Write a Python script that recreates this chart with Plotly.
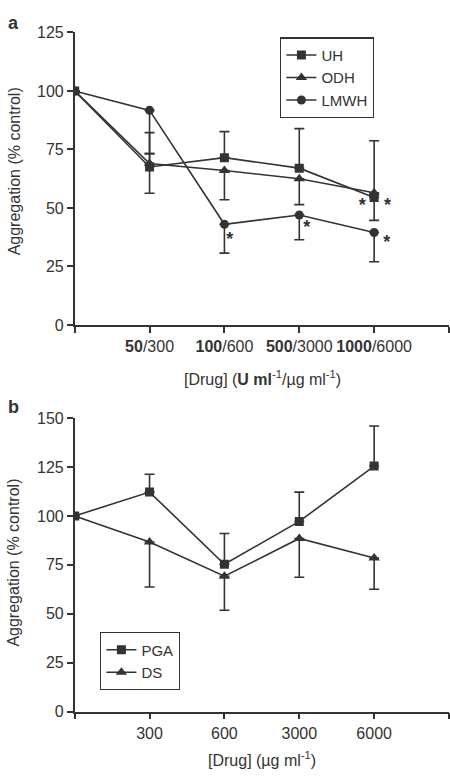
import plotly.graph_objects as go

# ---------------- data ----------------
x_pos = [0, 1, 2, 3, 4]
tick_labels_a = ["<b>50</b>/300", "<b>100</b>/600", "<b>500</b>/3000", "<b>1000</b>/6000"]
tick_labels_b = ["300", "600", "3000", "6000"]

uh = [100, 67.5, 71.5, 67, 54.5]
uh_err_plus = [0, 14.7, 11.1, 16.9, 24.2]
uh_err_minus = [0, 11.2, 0, 0, 0]

odh = [100, 69, 66, 62.5, 56.5]
odh_err_plus = [0, 4.2, 0, 0, 0]
odh_err_minus = [0, 0, 12.5, 11.1, 11.8]

lmwh = [100, 91.7, 43, 47, 39.5]
lmwh_err_plus = [0, 0, 0, 0, 0]
lmwh_err_minus = [0, 18.5, 12.3, 10.6, 12.5]

pga = [100, 112.2, 75.3, 97.2, 125.5]
pga_err_plus = [0, 9.1, 15.7, 15.0, 20.5]

ds = [100, 86.7, 69.2, 88.5, 78.5]
ds_err_minus = [0, 23.0, 17.4, 19.8, 16.0]

# significance stars (x, y) in panel a
star_x = [2.07, 3.10, 3.84, 4.18, 4.17]
star_y = [36.0, 41.0, 50.5, 50.5, 35.0]

# ---------------- style ----------------
INK = "#333333"
FONT = "Liberation Sans, Arial, Helvetica, sans-serif"
W, H = 450, 778


def px(pix):
    return pix / W


def py(pix):
    return 1 - pix / H


fig = go.Figure()


def add_series(name, y, plus, minus, symbol, xa, ya, legend):
    fig.add_trace(go.Scatter(
        x=x_pos, y=y, name=name, mode="lines+markers",
        xaxis=xa, yaxis=ya, legend=legend,
        line=dict(color=INK, width=1.6),
        marker=dict(symbol=symbol, size=9 if symbol != "triangle-up" else 10, color=INK,
                    line=dict(width=0)),
        error_y=dict(type="data", symmetric=False, array=plus, arrayminus=minus,
                     color=INK, thickness=1.6, width=5),
    ))


add_series("UH", uh, uh_err_plus, uh_err_minus, "square", "x", "y", "legend")
add_series("ODH", odh, odh_err_plus, odh_err_minus, "triangle-up", "x", "y", "legend")
add_series("LMWH", lmwh, lmwh_err_plus, lmwh_err_minus, "circle", "x", "y", "legend")
add_series("PGA", pga, pga_err_plus, [0] * 5, "square", "x2", "y2", "legend2")
add_series("DS", ds, [0] * 5, ds_err_minus, "triangle-up", "x2", "y2", "legend2")

fig.add_trace(go.Scatter(
    x=star_x, y=star_y, mode="text", text=["<b>*</b>"] * len(star_x),
    textfont=dict(size=18, color=INK, family=FONT), showlegend=False,
    xaxis="x", yaxis="y", hoverinfo="skip"))

x_dom = [px(74.7), px(449)]
axis_common = dict(showline=True, linecolor=INK, linewidth=1.6, ticks="outside",
                   ticklen=6, tickwidth=1.6, tickcolor=INK, showgrid=False,
                   zeroline=False, tickfont=dict(family=FONT, size=16, color=INK))

leg_common = dict(xanchor="left", yanchor="top", bordercolor=INK, borderwidth=1.4,
                  bgcolor="white", font=dict(family=FONT, size=15, color=INK),
                  itemwidth=30, tracegroupgap=0)

fig.update_layout(
    width=W, height=H, margin=dict(l=0, r=0, t=0, b=0),
    paper_bgcolor="white", plot_bgcolor="white",
    font=dict(family=FONT, color=INK, size=16),
    xaxis=dict(domain=x_dom, range=[0, 5], anchor="y",
               tickvals=[0, 1, 2, 3, 4, 5], ticktext=[""] + tick_labels_a + [""],
               **axis_common),
    yaxis=dict(domain=[py(324), py(25)], range=[0, 125], anchor="x",
               tickvals=[0, 25, 50, 75, 100, 125], **axis_common),
    xaxis2=dict(domain=x_dom, range=[0, 5], anchor="y2",
                tickvals=[0, 1, 2, 3, 4, 5], ticktext=[""] + tick_labels_b + [""],
                **axis_common),
    yaxis2=dict(domain=[py(719.3), py(419.3)], range=[0, 150], anchor="x2",
                tickvals=[0, 25, 50, 75, 100, 125, 150], **axis_common),
    legend=dict(x=px(280), y=py(30), **leg_common),
    legend2=dict(x=px(100), y=py(638), **leg_common),
    showlegend=True,
)

ann = [
    dict(text="<b>a</b>", x=px(6), y=py(15), xanchor="left", yanchor="middle", font=dict(size=18)),
    dict(text="<b>b</b>", x=px(6), y=py(408), xanchor="left", yanchor="middle", font=dict(size=18)),
    dict(text="[Drug] (<b>U ml</b><sup>-1</sup>/\u00b5g ml<sup>-1</sup>)", x=px(262), y=py(378),
         xanchor="center", yanchor="middle", font=dict(size=16)),
    dict(text="[Drug] (\u00b5g ml<sup>-1</sup>)", x=px(262), y=py(768),
         xanchor="center", yanchor="middle", font=dict(size=16)),
    dict(text="Aggregation (% control)", x=px(14), y=py(167), textangle=-90,
         xanchor="center", yanchor="middle", font=dict(size=16)),
    dict(text="Aggregation (% control)", x=px(14), y=py(567), textangle=-90,
         xanchor="center", yanchor="middle", font=dict(size=16)),
]
for a in ann:
    a.update(xref="paper", yref="paper", showarrow=False)
    a["font"] = dict(family=FONT, color=INK, **a["font"])
fig.update_layout(annotations=ann)

fig.write_html("out.html", config={"displayModeBar": False},
               post_script="document.body.style.margin='0';")
